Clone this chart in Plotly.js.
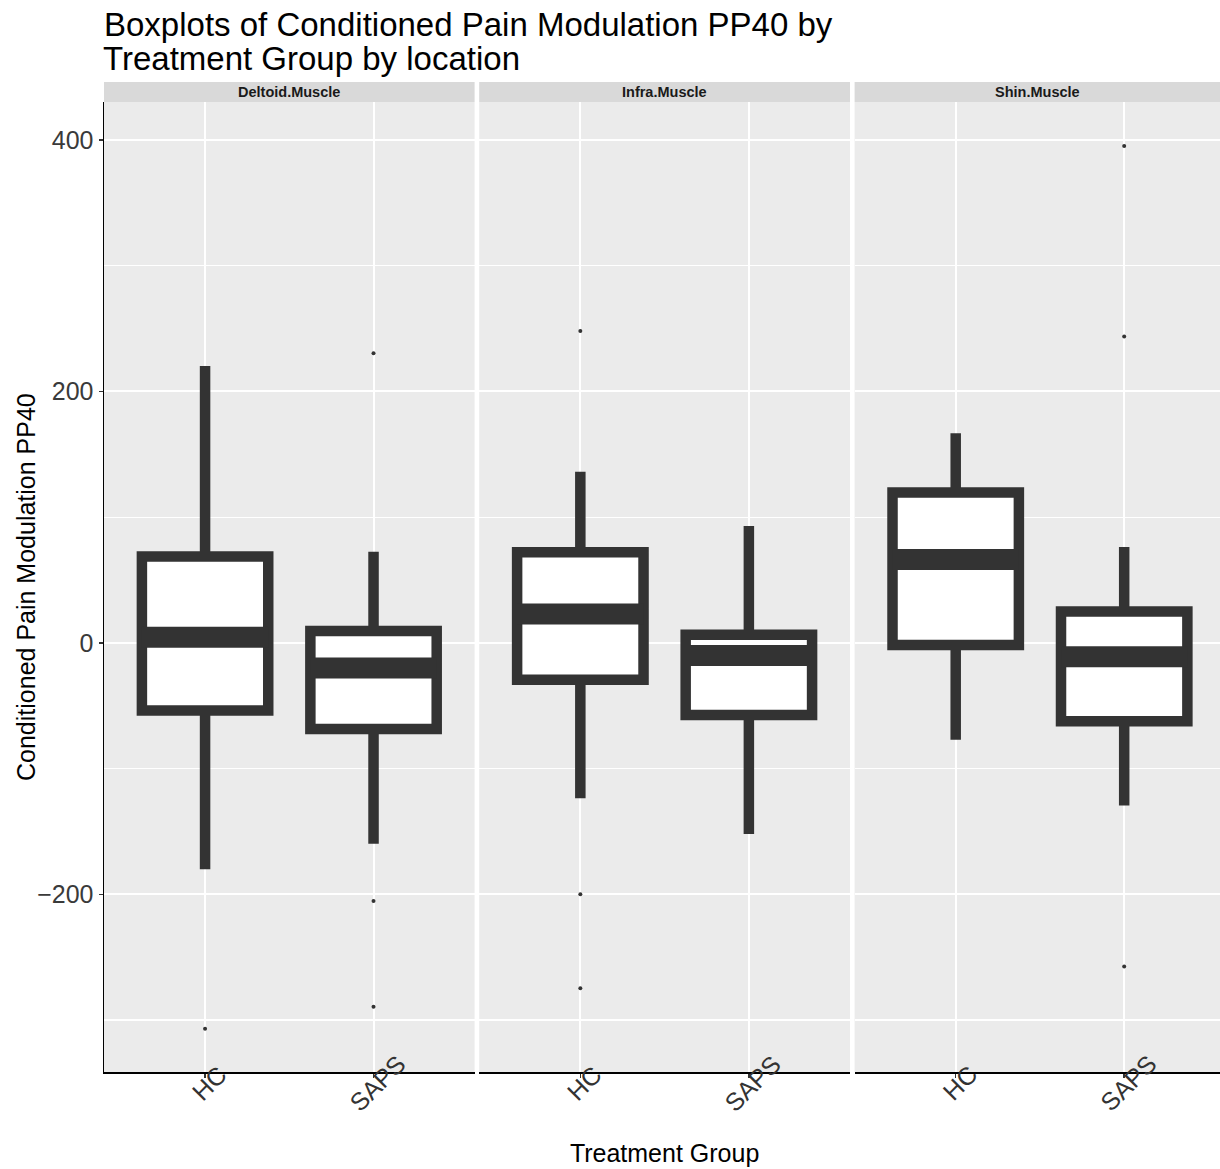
<!DOCTYPE html>
<html>
<head>
<meta charset="utf-8">
<script src="https://cdn.plot.ly/plotly-3.0.1.min.js"></script>
<style>
  html, body { margin: 0; padding: 0; background: #ffffff; overflow: hidden; }
  #chart { width: 1220px; height: 1169px; }
</style>
</head>
<body>
<div id="chart"></div>
<script>
// Conditioned Pain Modulation PP40, one panel per muscle location
const locations = ['Deltoid.Muscle', 'Infra.Muscle', 'Shin.Muscle'];
const groups = ['HC', 'SAPS'];

// Two-line chart heading
const titleLines = ['Boxplots of Conditioned Pain Modulation PP40 by', 'Treatment Group by location'];

// Box statistics per location, in group order [HC, SAPS]
const lowerWhisker = [[-180, -159.8], [-123.5, -152.1], [-77.1, -129.4]];
const q1 =           [[-53.7, -68.4], [-29.4, -57.3],  [-1.6, -62.4]];
const median =       [[4.4, -19.9],   [23, -10],       [66.4, -11]];
const q3 =           [[68.8, 9.5],    [72, 6.4],       [119.7, 25]];
const upperWhisker = [[220.3, 72.4],  [136.2, 93],     [166.8, 76.3]];

// Points beyond the whiskers
const outliers = [
  [[-307], [230.4, -205.2, -289.5]],
  [[248, -199.9, -274.6], []],
  [[], [395.2, 243.6, -257.4]]
];

const INK = '#333333';
const BOX_WIDTH = 0.75;
const EDGE = 10.5;

const xNames = ['x', 'x2', 'x3'];
const traces = [];

locations.forEach((loc, f) => {
  const xa = xNames[f];
  groups.forEach((g, i) => {
    traces.push({
      type: 'box',
      xaxis: xa, yaxis: 'y',
      x: [i],
      lowerfence: [lowerWhisker[f][i]],
      q1: [q1[f][i]],
      median: [median[f][i]],
      q3: [q3[f][i]],
      upperfence: [upperWhisker[f][i]],
      width: BOX_WIDTH,
      whiskerwidth: 0,
      boxpoints: false,
      fillcolor: '#ffffff',
      line: { color: INK, width: EDGE },
      hoverinfo: 'skip',
      showlegend: false
    });
    // heavier median bar drawn over the box
    traces.push({
      type: 'scatter', mode: 'lines',
      xaxis: xa, yaxis: 'y',
      x: [i - BOX_WIDTH / 2, i + BOX_WIDTH / 2],
      y: [median[f][i], median[f][i]],
      line: { color: INK, width: 21 },
      hoverinfo: 'skip',
      showlegend: false
    });
    if (outliers[f][i].length) {
      traces.push({
        type: 'scatter', mode: 'markers',
        xaxis: xa, yaxis: 'y',
        x: outliers[f][i].map(() => i),
        y: outliers[f][i],
        marker: { color: INK, size: 4 },
        hoverinfo: 'skip',
        showlegend: false
      });
    }
  });
});

// panel domains (fractions of plot width) and x ranges
const domains = [[0, 0.33208], [0.33620, 0.66846], [0.67258, 1]];
const xRanges = [[-0.6, 1.6], [-0.6, 1.6], [-0.6, 1.5686]];

const STRIP_TOP = 1 + 20 / 970;

const layout = {
  width: 1220, height: 1169,
  margin: { l: 104, r: 0, t: 102, b: 97 },
  paper_bgcolor: '#ffffff',
  plot_bgcolor: '#EBEBEB',
  font: { family: 'Liberation Sans, Arial, sans-serif', color: INK },
  title: {
    text: titleLines[0],
    font: { size: 33, color: '#000000' },
    x: 0, xref: 'paper', xanchor: 'left',
    y: 1 - 24 / 1169, yref: 'container', yanchor: 'middle'
  },
  yaxis: {
    anchor: 'x',
    range: [-341.3, 430.2],
    tickvals: [-200, 0, 200, 400],
    ticktext: ['\u2212200', '0', '200', '400'],
    tickfont: { size: 25, color: '#3a3a3a' },
    ticks: 'outside', ticklen: 4, tickcolor: INK, tickwidth: 1.5,
    showgrid: true, gridcolor: '#ffffff', gridwidth: 2,
    minor: { tickvals: [-300, -100, 100, 300], showgrid: true, gridcolor: '#ffffff', gridwidth: 1.2, ticks: '' },
    zeroline: false,
    showline: true, linecolor: '#000000', linewidth: 1.5,
    automargin: false
  },
  annotations: [{
    // second line of the heading
    text: titleLines[1],
    xref: 'paper', yref: 'paper', x: 0, y: 1 + (102 - 59) / 970,
    xanchor: 'left', yanchor: 'middle', xshift: -3, showarrow: false,
    font: { size: 33, color: '#000000' }
  }, {
    // y-axis title
    text: 'Conditioned Pain Modulation PP40',
    xref: 'paper', yref: 'paper', x: 0, y: 0.5,
    xanchor: 'center', yanchor: 'middle', xshift: -78,
    textangle: -90, showarrow: false,
    font: { size: 25, color: '#000000' }
  }],
  shapes: []
};

xNames.forEach((xa, f) => {
  const key = f === 0 ? 'xaxis' : 'xaxis' + (f + 1);
  layout[key] = {
    domain: domains[f],
    anchor: 'y',
    range: xRanges[f],
    tickvals: [0, 1],
    showticklabels: false,
    ticks: 'outside', ticklen: 4, tickcolor: INK, tickwidth: 1.5,
    showgrid: true, gridcolor: '#ffffff', gridwidth: 2,
    zeroline: false,
    showline: true, linecolor: '#000000', linewidth: 1.5,
    automargin: false
  };
  // facet strip
  layout.shapes.push({
    type: 'rect', xref: 'paper', yref: 'paper',
    x0: domains[f][0], x1: domains[f][1], y0: 1, y1: STRIP_TOP,
    fillcolor: '#D9D9D9', line: { width: 0 }, layer: 'below'
  });
  layout.annotations.push({
    text: '<b>' + locations[f] + '</b>',
    xref: 'paper', yref: 'paper',
    x: (domains[f][0] + domains[f][1]) / 2, y: (1 + STRIP_TOP) / 2,
    xanchor: 'center', yanchor: 'middle', showarrow: false,
    font: { size: 14.5, color: '#1a1a1a' }
  });
  // slanted group labels centred on each tick
  groups.forEach((g, i) => {
    layout.annotations.push({
      text: g, xref: xa, yref: 'paper',
      x: i, y: -11 / 970, xshift: 4,
      xanchor: 'center', yanchor: 'middle', showarrow: false,
      textangle: -45,
      font: { size: 25, color: INK }
    });
  });
});

layout.xaxis2.title = { text: 'Treatment Group', font: { size: 25, color: '#000000' }, standoff: 68 };

Plotly.newPlot('chart', traces, layout, { staticPlot: true, displayModeBar: false });
</script>
</body>
</html>
